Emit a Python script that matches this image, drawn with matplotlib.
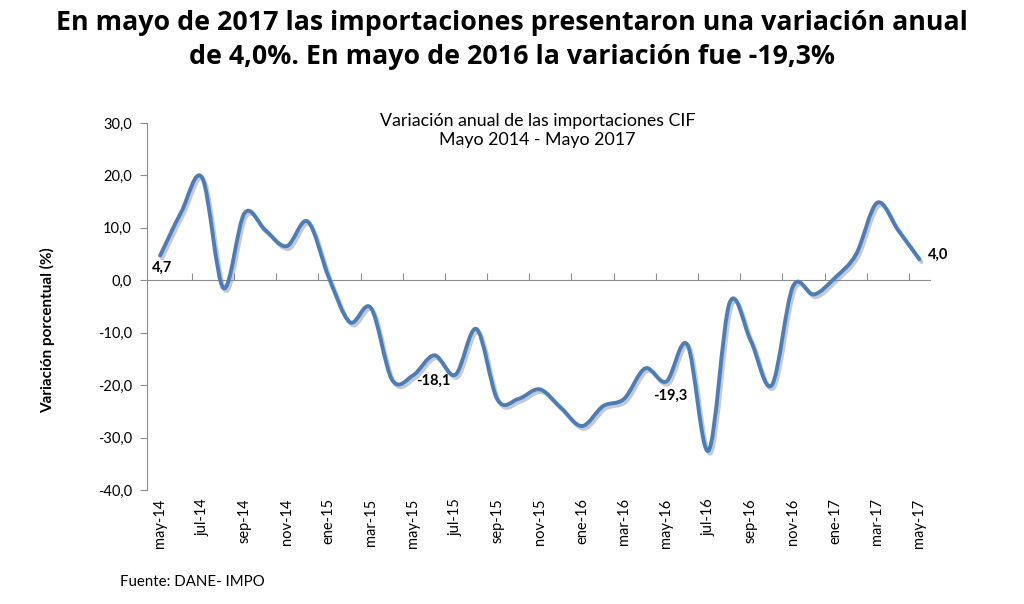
import matplotlib
matplotlib.use("Agg")
import matplotlib.pyplot as plt
import matplotlib.patheffects as pe
from matplotlib.path import Path
from matplotlib.patches import PathPatch
from matplotlib.ticker import FuncFormatter
import numpy as np

plt.rcParams['font.family'] = ['Lato', 'DejaVu Sans']

# datos (variacion anual %, may-14 .. may-17)
variacion = [4.7, 13.0, 19.5, -1.5, 12.8, 9.5, 6.5, 11.2,
             0.5, -8.0, -5.3, -19.0, -18.1, -14.3, -18.0, -9.3, -22.8, -22.6, -20.8, -24.3,
             -27.8, -24.0, -22.6, -16.8, -19.3, -12.3, -32.5, -4.3, -11.5, -20.0, -1.2, -2.7,
             0.5, 5.0, 14.8, 9.5, 4.0]
etiquetas_x = ['may-14', 'jul-14', 'sep-14', 'nov-14', 'ene-15', 'mar-15', 'may-15',
               'jul-15', 'sep-15', 'nov-15', 'ene-16', 'mar-16', 'may-16', 'jul-16',
               'sep-16', 'nov-16', 'ene-17', 'mar-17', 'may-17']
rotulos = {0: '4,7', 12: '-18,1', 24: '-19,3', 36: '4,0'}

azul = '#4a7ebb'
gris = '#8c8c8c'
x = np.arange(len(variacion))
y = np.array(variacion)

fig = plt.figure(figsize=(10.24, 6.04), dpi=100)
ax = fig.add_axes([0.1436, 0.1887, 0.9082 - 0.1436, 0.7964 - 0.1887])

# linea suavizada tipo Excel (Catmull-Rom -> Bezier)
pts = np.column_stack([x, y])
verts = [pts[0]]
codes = [Path.MOVETO]
n = len(pts)
for i in range(n - 1):
    p0 = pts[max(i - 1, 0)]
    p1 = pts[i]
    p2 = pts[i + 1]
    p3 = pts[min(i + 2, n - 1)]
    verts += [p1 + (p2 - p0) / 6.0, p2 - (p3 - p1) / 6.0, p2]
    codes += [Path.CURVE4] * 3
linea = PathPatch(Path(verts, codes), facecolor='none', edgecolor=azul, lw=2.8,
                  capstyle='round', joinstyle='round', zorder=3)
linea.set_path_effects([pe.SimpleLineShadow(offset=(1.5, -2), shadow_color='#888888', alpha=0.45),
                        pe.Normal()])
ax.add_patch(linea)

ax.set_xlim(-0.62, 36.5)
ax.set_ylim(-40, 30)

# eje y
ax.set_yticks(np.arange(-40, 31, 10))
ax.yaxis.set_major_formatter(FuncFormatter(lambda v, p: f'{v:.1f}'.replace('.', ',')))
ax.tick_params(axis='y', direction='out', length=5, color=gris, labelsize=10.5, pad=6)
for s in ['top', 'right', 'bottom']:
    ax.spines[s].set_visible(False)
ax.spines['left'].set_color(gris)

# etiquetas x abajo
ax.set_xticks(np.arange(0, 37, 2))
ax.set_xticklabels(etiquetas_x, rotation=90, fontsize=10.5)
ax.tick_params(axis='x', length=0, pad=6)

# linea de cero con marcas
cero = ax.secondary_xaxis(40 / 70)
cero.set_xticks(np.arange(1.5, 36, 2))
cero.set_xticklabels([])
cero.tick_params(direction='out', length=5, color=gris)
for s in cero.spines.values():
    s.set_color(gris)

ax.set_ylabel('Variación porcentual (%)', fontsize=11, fontweight='bold')
ax.yaxis.set_label_coords(-0.1175, 0.436)

ax.annotate(rotulos[0], (x[0], y[0]), xytext=(-6, -9), textcoords='offset points',
            fontsize=10.5, fontweight='bold', ha='left', va='center')
ax.annotate(rotulos[12], (x[12], y[12]), xytext=(2, -4), textcoords='offset points',
            fontsize=10.5, fontweight='bold', ha='left', va='center')
ax.annotate(rotulos[24], (x[24], y[24]), xytext=(3, -10), textcoords='offset points',
            fontsize=10.5, fontweight='bold', ha='center', va='center')
ax.annotate(rotulos[36], (x[36], y[36]), xytext=(6, 3), textcoords='offset points',
            fontsize=10.5, fontweight='bold', ha='left', va='center')

fig.text(0.525, 0.784, 'Variación anual de las importaciones CIF\nMayo 2014 - Mayo 2017',
         ha='center', va='center', fontsize=12.8, linespacing=1.25)
fig.text(0.5, 0.934, 'En mayo de 2017 las importaciones presentaron una variación anual\n'
         'de 4,0%. En mayo de 2016 la variación fue -19,3%',
         ha='center', va='center', fontsize=19.3, fontweight='bold', linespacing=1.38,
         family='Open Sans')
fig.text(0.117, 0.036, 'Fuente: DANE- IMPO', fontsize=10.8, va='center')

fig.savefig('out.png', dpi=100)
